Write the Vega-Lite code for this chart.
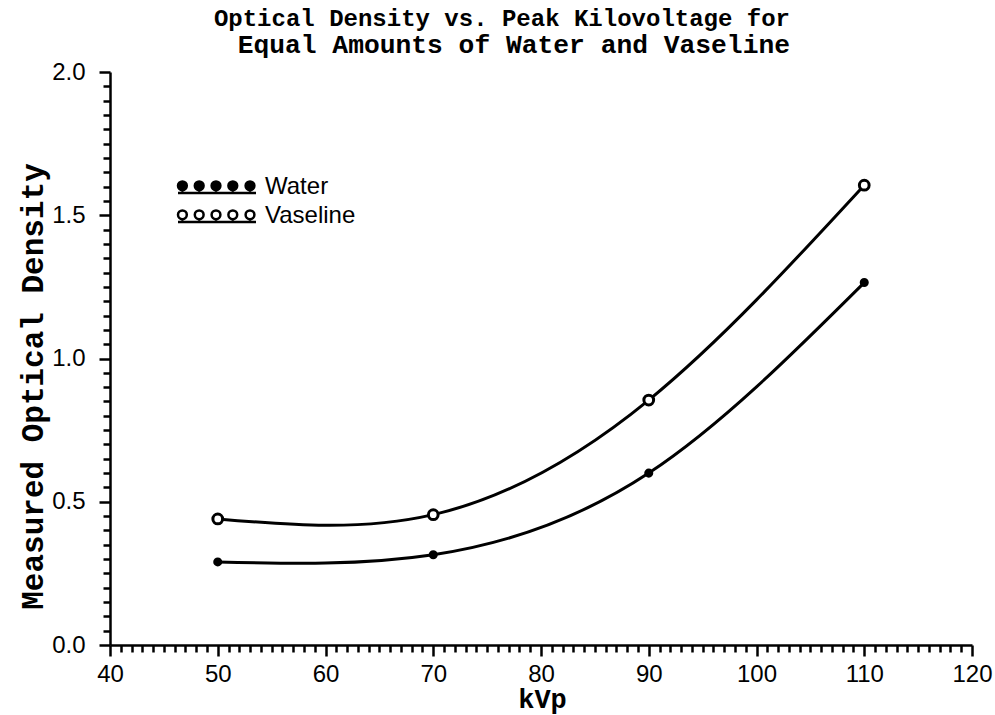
{
  "$schema": "https://vega.github.io/schema/vega-lite/v6.json",
  "width": 862,
  "height": 573,
  "autosize": "none",
  "padding": {"left": 110, "top": 72, "right": 23, "bottom": 70},
  "background": "white",
  "config": {"view": {"stroke": null}},
  "title": {
    "text": "Optical Density vs. Peak Kilovoltage for",
    "subtitle": "Equal Amounts of Water and Vaseline",
    "anchor": "end",
    "frame": "group",
    "dx": -182,
    "offset": 2,
    "font": "Liberation Mono",
    "fontWeight": "bold",
    "fontSize": 24,
    "color": "black",
    "subtitleFont": "Liberation Mono",
    "subtitleFontWeight": "bold",
    "subtitleFontSize": 26.3,
    "subtitleColor": "black",
    "subtitlePadding": 1
  },
  "data": {
    "values": [
      {"kVp": 50, "od": 0.29, "series": "Water"},
      {"kVp": 70, "od": 0.315, "series": "Water"},
      {"kVp": 90, "od": 0.6, "series": "Water"},
      {"kVp": 110, "od": 1.265, "series": "Water"},
      {"kVp": 50, "od": 0.44, "series": "Vaseline"},
      {"kVp": 70, "od": 0.455, "series": "Vaseline"},
      {"kVp": 90, "od": 0.855, "series": "Vaseline"},
      {"kVp": 110, "od": 1.605, "series": "Vaseline"}
    ]
  },
  "encoding": {
    "x": {
      "field": "kVp",
      "type": "quantitative",
      "scale": {"domain": [40, 120], "nice": false, "zero": false},
      "axis": {
        "title": "kVp",
        "titleFont": "Liberation Mono",
        "titleFontWeight": "bold",
        "titleFontSize": 27,
        "titleColor": "black",
        "titleX": 432,
        "titleY": 62,
        "titleBaseline": "alphabetic",
        "titleAlign": "center",
        "values": [40,41,42,43,44,45,46,47,48,49,50,51,52,53,54,55,56,57,58,59,60,61,62,63,64,65,66,67,68,69,70,71,72,73,74,75,76,77,78,79,80,81,82,83,84,85,86,87,88,89,90,91,92,93,94,95,96,97,98,99,100,101,102,103,104,105,106,107,108,109,110,111,112,113,114,115,116,117,118,119,120],
        "labelExpr": "datum.value % 10 === 0 ? datum.label : ''",
        "labelFont": "Liberation Sans",
        "labelFontSize": 24,
        "labelColor": "black",
        "labelPadding": 6,
        "labelFlush": false,
        "labelOverlap": false,
        "grid": false,
        "domainColor": "black",
        "domainWidth": 2.5,
        "tickColor": "black",
        "tickWidth": 2.5,
        "tickSize": {"condition": {"test": "datum.value % 10 === 0", "value": 11}, "value": 7}
      }
    },
    "y": {
      "field": "od",
      "type": "quantitative",
      "scale": {"domain": [0, 2], "nice": false},
      "axis": {
        "title": "Measured Optical Density",
        "titleFont": "Liberation Mono",
        "titleFontWeight": "bold",
        "titleFontSize": 31,
        "titleColor": "black",
        "titleAngle": 270,
        "titleX": -68,
        "titleY": 314,
        "titleBaseline": "alphabetic",
        "titleAlign": "center",
        "values": [0,0.05,0.1,0.15,0.2,0.25,0.3,0.35,0.4,0.45,0.5,0.55,0.6,0.65,0.7,0.75,0.8,0.85,0.9,0.95,1,1.05,1.1,1.15,1.2,1.25,1.3,1.35,1.4,1.45,1.5,1.55,1.6,1.65,1.7,1.75,1.8,1.85,1.9,1.95,2],
        "format": ".1f",
        "labelExpr": "abs(datum.value * 2 - round(datum.value * 2)) < 0.000001 ? datum.label : ''",
        "labelFont": "Liberation Sans",
        "labelFontSize": 24,
        "labelColor": "black",
        "labelPadding": 14,
        "labelFlush": false,
        "labelOverlap": false,
        "grid": false,
        "domainColor": "black",
        "domainWidth": 2.5,
        "tickColor": "black",
        "tickWidth": 2.5,
        "tickSize": {"condition": {"test": "abs(datum.value * 2 - round(datum.value * 2)) < 0.000001", "value": 11}, "value": 7}
      }
    },
    "fill": {
      "field": "series",
      "type": "nominal",
      "scale": {"domain": ["Water", "Vaseline"], "range": ["black", "white"]},
      "legend": {
        "title": null,
        "orient": "none",
        "legendX": 56,
        "legendY": 103,
        "padding": 0,
        "symbolType": "M0,1.5L19.5,1.5M0,-0.3A1.1,1.1 0 1,0 2.2,-0.3A1.1,1.1 0 1,0 0,-0.3ZM4.2,-0.3A1.1,1.1 0 1,0 6.4,-0.3A1.1,1.1 0 1,0 4.2,-0.3ZM8.4,-0.3A1.1,1.1 0 1,0 10.6,-0.3A1.1,1.1 0 1,0 8.4,-0.3ZM12.6,-0.3A1.1,1.1 0 1,0 14.8,-0.3A1.1,1.1 0 1,0 12.6,-0.3ZM16.9,-0.3A1.1,1.1 0 1,0 19.1,-0.3A1.1,1.1 0 1,0 16.9,-0.3ZM1.1,0.8L1.1,1.5M5.3,0.8L5.3,1.5M9.5,0.8L9.5,1.5M13.7,0.8L13.7,1.5M18,0.8L18,1.5",
        "symbolSize": 64,
        "symbolStrokeColor": "black",
        "symbolStrokeWidth": 2.5,
        "symbolOpacity": 1,
        "labelFont": "Liberation Sans",
        "labelFontSize": 24,
        "labelColor": "black",
        "labelOffset": 75,
        "rowPadding": 5
      }
    }
  },
  "layer": [
    {
      "mark": {"type": "line", "interpolate": "natural", "color": "black", "strokeWidth": 3},
      "encoding": {"detail": {"field": "series"}, "fill": null}
    },
    {
      "transform": [{"filter": "datum.series === 'Water'"}],
      "mark": {"type": "point", "filled": true, "stroke": "black", "strokeWidth": 2, "opacity": 1, "size": 50}
    },
    {
      "transform": [{"filter": "datum.series === 'Vaseline'"}],
      "mark": {"type": "point", "filled": true, "stroke": "black", "strokeWidth": 3, "opacity": 1, "size": 95}
    }
  ]
}
